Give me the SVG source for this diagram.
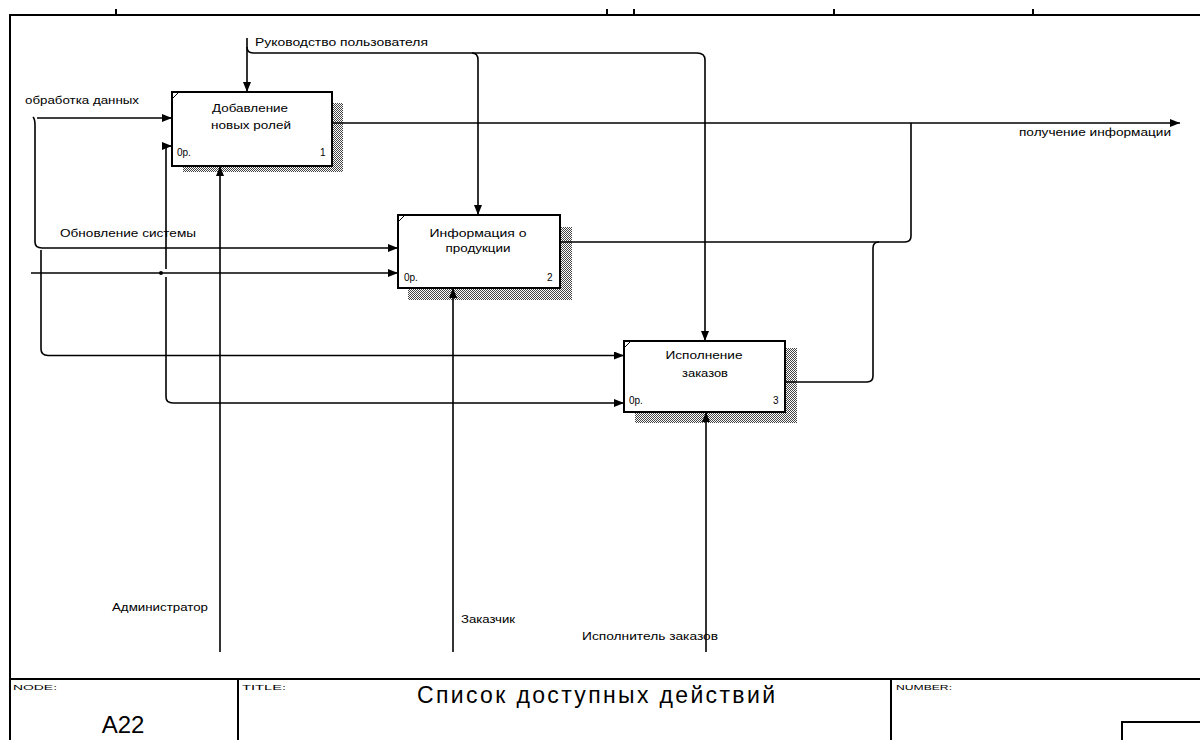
<svg xmlns="http://www.w3.org/2000/svg" width="1200" height="740" viewBox="0 0 1200 740">
<style>
.frame{stroke:#000;stroke-width:2;fill:none}
.box{fill:#fff;stroke:#000;stroke-width:2}
.shadow{fill:url(#hatch);stroke:none}
.corner{stroke:#000;stroke-width:1;fill:none}
.c{stroke:#000;stroke-width:1.6;fill:none}
.arr{marker-end:url(#ah)}
.t{font-family:"Liberation Sans",Arial,sans-serif;font-size:11px;fill:#000}
.bt{font-family:"Liberation Sans",Arial,sans-serif;font-size:11px;fill:#000;text-anchor:middle}
.sm{font-family:"Liberation Sans",Arial,sans-serif;font-size:8px;fill:#000}
</style>
<defs>
<pattern id="hatch" width="2" height="2" patternUnits="userSpaceOnUse">
<rect x="0" y="0" width="2" height="2" fill="#fff"/>
<rect x="0" y="0" width="1" height="1" fill="#444"/>
<rect x="1" y="1" width="1" height="1" fill="#444"/>
</pattern>
<marker id="ah" markerWidth="12" markerHeight="10" refX="10" refY="4" orient="auto" markerUnits="userSpaceOnUse">
<path d="M0,0 L10,4 L0,8 Z" fill="#000"/>
</marker>
</defs>
<rect width="1200" height="740" fill="#fff"/>
<g id="frame">
<path class="frame" d="M10,740 V15 H1200"/>
<path class="frame" d="M116,9 V15 M607,9 V15 M634,9 V15 M834,9 V15 M1033,9 V15"/>
<path class="frame" d="M10,679 H1200 M238,679 V740 M891,679 V740"/>
<rect class="frame" x="1122" y="722" width="80" height="20"/>
<text class="sm" x="13" y="690" textLength="44" lengthAdjust="spacingAndGlyphs">NODE:</text>
<text class="sm" x="242" y="690" textLength="44" lengthAdjust="spacingAndGlyphs">TITLE:</text>
<text class="sm" x="896" y="690" textLength="56" lengthAdjust="spacingAndGlyphs">NUMBER:</text>
<text x="123" y="733" text-anchor="middle" style="font-family:'Liberation Sans',Arial,sans-serif;font-size:24px;fill:#000">A22</text>
<text x="417" y="703" textLength="358" lengthAdjust="spacing" style="font-family:'Liberation Sans',Arial,sans-serif;font-size:23px;fill:#000">Список доступных  действий</text>
</g>
<g id="node1">
<path class="shadow" d="M332,103 H343 V172 H183 V166 H332 Z"/>
<rect class="box" x="172" y="92" width="160" height="74"/>
<path class="corner" d="M172,99 L179,92"/>
<text class="bt" x="250" y="112" textLength="76" lengthAdjust="spacingAndGlyphs">Добавление</text>
<text class="bt" x="251" y="129" textLength="80" lengthAdjust="spacingAndGlyphs">новых ролей</text>
<text class="t" x="177" y="156" style="font-size:10px">0р.</text>
<text class="t" x="320" y="156" style="font-size:10px">1</text>
</g>
<g id="node2">
<path class="shadow" d="M560,227 H572 V300 H408 V288 H560 Z"/>
<rect class="box" x="398" y="215" width="162" height="73"/>
<path class="corner" d="M398,222 L405,215"/>
<text class="bt" x="478" y="237" textLength="97" lengthAdjust="spacingAndGlyphs">Информация о</text>
<text class="bt" x="478" y="252" textLength="65" lengthAdjust="spacingAndGlyphs">продукции</text>
<text class="t" x="404" y="281" style="font-size:10px">0р.</text>
<text class="t" x="547" y="281" style="font-size:10px">2</text>
</g>
<g id="node3">
<path class="shadow" d="M785,348 H797 V423 H635 V412 H785 Z"/>
<rect class="box" x="624" y="341" width="161" height="71"/>
<path class="corner" d="M624,348 L631,341"/>
<text class="bt" x="704" y="359" textLength="77" lengthAdjust="spacingAndGlyphs">Исполнение</text>
<text class="bt" x="705" y="377" textLength="46" lengthAdjust="spacingAndGlyphs">заказов</text>
<text class="t" x="629" y="404" style="font-size:10px">0р.</text>
<text class="t" x="773" y="404" style="font-size:10px">3</text>
</g>
<g id="connectors">
<path class="c arr" d="M247,38 V92"/>
<path class="c" d="M247,47 Q247,53 253,53 H697 Q705,53 705,60 V341" marker-end="url(#ah)"/>
<path class="c arr" d="M472,53 Q478,53 478,60 V215"/>
<path class="c arr" d="M37,118 H172"/>
<path class="c" d="M33,117 Q35,119 35,125 V242 Q35,248 42,248 H398" marker-end="url(#ah)"/>
<path class="c" d="M41,250 V349 Q41,355.5 48,355.5 H624" marker-end="url(#ah)"/>
<path class="c arr" d="M31,273 H398"/>
<circle cx="161" cy="273" r="2" fill="#000"/>
<path class="c" d="M166,269 V150 Q166,146 168,146 H172" marker-end="url(#ah)"/>
<path class="c" d="M166,277 V397 Q166,403 173,403 H624" marker-end="url(#ah)"/>
<path class="c arr" d="M333,123 H1180"/>
<path class="c" d="M560,242 H905 Q911,242 911,236 V123"/>
<path class="c" d="M785,382 H867 Q873,382 873,376 V248 Q873,242 879,242"/>
<path class="c arr" d="M220,652 V166"/>
<path class="c arr" d="M453,652 V288"/>
<path class="c arr" d="M706,652 V412"/>
<text class="t" x="255" y="46" textLength="173" lengthAdjust="spacingAndGlyphs">Руководство пользователя</text>
<text class="t" x="25" y="104" textLength="114" lengthAdjust="spacingAndGlyphs">обработка данных</text>
<text class="t" x="60" y="237" textLength="136" lengthAdjust="spacingAndGlyphs">Обновление системы</text>
<text class="t" x="1019" y="136" textLength="152" lengthAdjust="spacingAndGlyphs">получение информации</text>
<text class="t" x="112" y="611" textLength="96" lengthAdjust="spacingAndGlyphs">Администратор</text>
<text class="t" x="461" y="623" textLength="54" lengthAdjust="spacingAndGlyphs">Заказчик</text>
<text class="t" x="582" y="640" textLength="136" lengthAdjust="spacingAndGlyphs">Исполнитель заказов</text>
</g>
</svg>
